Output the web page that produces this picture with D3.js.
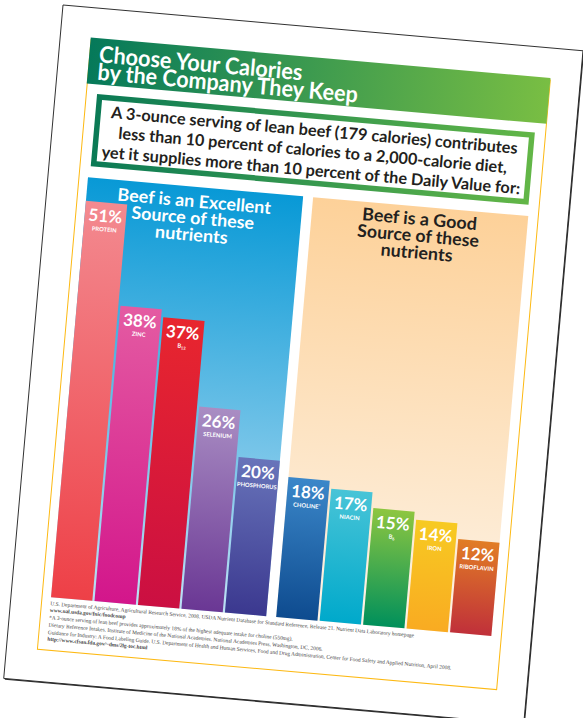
<!DOCTYPE html>
<html>
<head>
<meta charset="utf-8">
<script src="https://cdn.jsdelivr.net/npm/d3@7"></script>
<style>
  body { margin: 0; background: #fff; }
  svg { display: block; }
</style>
</head>
<body>
<svg id="chart" width="583" height="718"></svg>
<script>
const excellentNutrients = ['PROTEIN', 'ZINC', 'B12', 'SELENIUM', 'PHOSPHORUS'];
const excellentValues = [51, 38, 37, 26, 20];
const goodNutrients = ['CHOLINE*', 'NIACIN', 'B6', 'IRON', 'RIBOFLAVIN'];
const goodValues = [18, 17, 15, 14, 12];

const titleLines = ['Choose Your Calories', 'by the Company They Keep'];
const subtitleLines = [
  'A 3-ounce serving of lean beef (179 calories) contributes',
  'less than 10 percent of calories to a 2,000-calorie diet,',
  'yet it supplies more than 10 percent of the Daily Value for:'
];
const excellentHeader = ['Beef is an Excellent', 'Source of these', 'nutrients'];
const goodHeader = ['Beef is a Good', 'Source of these', 'nutrients'];
const footnoteLines = [
  'U.S. Department of Agriculture, Agricultural Research Service, 2008. USDA Nutrient Database for Standard Reference, Release 21. Nutrient Data Laboratory homepage',
  'www.nal.usda.gov/fnic/foodcomp',
  '*A 3-ounce serving of lean beef provides approximately 18% of the highest adequate intake for choline (550mg).',
  'Dietary Reference Intakes. Institute of Medicine of the National Academies. National Academies Press, Washington, DC, 2006.',
  'Guidance for Industry: A Food Labeling Guide. U.S. Department of Health and Human Services, Food and Drug Administration, Center for Food Safety and Applied Nutrition, April 2008.',
  'http://www.cfsan.fda.gov/~dms/2lg-toc.html'
];

// bar colours, top -> bottom
const excellentColors = [
  ['#f38a90', '#ee4047'], ['#e45ba2', '#d3168b'], ['#e8262e', '#cb0f42'],
  ['#a98dc3', '#6a3794'], ['#6874ba', '#3b388f']
];
const goodColors = [
  ['#3b87c9', '#0e4b8f'], ['#48c4d7', '#00a9cb'], ['#8dc640', '#00905b'],
  ['#f7ca22', '#f9ab22'], ['#e17d25', '#c0303a']
];

const svg = d3.select('#chart');
const defs = svg.append('defs');
const font = 'Lato, "Open Sans", sans-serif';

function gradient(id, c0, c1, horizontal) {
  const lg = defs.append('linearGradient').attr('id', id)
    .attr('x1', 0).attr('y1', 0)
    .attr('x2', horizontal ? 1 : 0).attr('y2', horizontal ? 0 : 1);
  lg.append('stop').attr('offset', 0).attr('stop-color', c0);
  lg.append('stop').attr('offset', 1).attr('stop-color', c1);
}
gradient('greenBand', '#05795a', '#79be43', true);
gradient('greenBox', '#0b7a55', '#62b647', true);
gradient('bluePanel', '#0899d6', '#bde0f4', false);
gradient('peachPanel', '#fdd199', '#fdf3e6', false);

const paperW = 522, paperH = 676;
const page = svg.append('g').attr('transform', 'translate(63,5) rotate(5.03)');

page.append('rect').attr('x', 1.2).attr('y', 1.2)
  .attr('width', paperW).attr('height', paperH).attr('fill', '#333');
page.append('rect').attr('width', paperW).attr('height', paperH)
  .attr('fill', '#fff').attr('stroke', '#222').attr('stroke-width', 0.9);

// yellow frame
page.append('rect').attr('x', 31).attr('y', 32).attr('width', 461).attr('height', 612)
  .attr('fill', 'none').attr('stroke', '#fdb913').attr('stroke-width', 1);

// lines of text stretched to the widths measured on the poster
function textBlock(lines, widths, opts) {
  page.append('g').selectAll('text').data(lines).join('text')
    .attr('x', opts.x).attr('y', (d, i) => opts.y + i * opts.step)
    .attr('text-anchor', opts.anchor || 'start')
    .attr('textLength', (d, i) => widths[i])
    .attr('lengthAdjust', 'spacingAndGlyphs')
    .attr('font-family', font).attr('font-weight', 700).attr('font-size', opts.size)
    .attr('fill', opts.color).text((d) => d);
}

// title band
page.append('rect').attr('x', 30.5).attr('y', 30).attr('width', 461.5).attr('height', 46)
  .attr('fill', 'url(#greenBand)');
textBlock(titleLines, [204, 261], { x: 40.5, y: 54, step: 17.5, size: 23, color: '#fff' });

// subtitle box
page.append('rect').attr('x', 44.5).attr('y', 88.5).attr('width', 434).attr('height', 67)
  .attr('fill', '#fff').attr('stroke', 'url(#greenBox)').attr('stroke-width', 5.5);
textBlock(subtitleLines, [408, 390, 420],
  { x: 261.5, y: 108.5, step: 20, size: 16.3, color: '#231f20', anchor: 'middle' });

// panels
const panelTop = 169.5, base = 591;
page.append('rect').attr('x', 40).attr('y', panelTop).attr('width', 216).attr('height', base - panelTop)
  .attr('fill', 'url(#bluePanel)');
page.append('rect').attr('x', 266).attr('y', panelTop).attr('width', 216).attr('height', base - panelTop)
  .attr('fill', 'url(#peachPanel)');

const y = d3.scaleLinear()
  .domain([0, d3.max([...excellentValues, ...goodValues])])
  .range([base, 193]);

textBlock(excellentHeader, [154, 123, 73],
  { x: 148, y: 190, step: 16.8, size: 17.5, color: '#fff', anchor: 'middle' });
textBlock(goodHeader, [115, 122, 72],
  { x: 374, y: 188, step: 16.8, size: 17.5, color: '#231f20', anchor: 'middle' });

function nutrientLabel(sel, name) {
  const m = name.match(/^B(\d+)$/);
  if (m) {
    sel.append('tspan').text('B');
    sel.append('tspan').attr('font-size', 4).attr('dy', 1.3).text(m[1]);
  } else if (name.endsWith('*')) {
    sel.append('tspan').text(name.slice(0, -1));
    sel.append('tspan').attr('font-size', 4.2).attr('dy', -1.7).text('*');
  } else {
    sel.text(name);
  }
}

function drawBars(key, names, values, colors, x0, x1) {
  const x = d3.scaleBand().domain(names).range([x0, x1]).paddingInner(0.05);
  const rows = names.map((n, i) => ({ name: n, value: values[i], c: colors[i], id: `${key}${i}` }));
  rows.forEach((d) => gradient(d.id, d.c[0], d.c[1], false));

  const g = page.append('g');
  g.selectAll('rect').data(rows).join('rect')
    .attr('x', (d) => x(d.name))
    .attr('y', (d) => y(d.value))
    .attr('width', x.bandwidth())
    .attr('height', (d) => base - y(d.value))
    .attr('fill', (d) => `url(#${d.id})`);

  g.selectAll('.pct').data(rows).join('text')
    .attr('class', 'pct')
    .attr('x', (d) => x(d.name) + x.bandwidth() / 2)
    .attr('y', (d) => y(d.value) + 19.5)
    .attr('text-anchor', 'middle')
    .attr('font-family', font).attr('font-weight', 700).attr('font-size', 17)
    .attr('fill', '#fff').text((d) => d.value + '%');

  g.selectAll('.name').data(rows).join('text')
    .attr('class', 'name')
    .attr('x', (d) => x(d.name) + x.bandwidth() / 2)
    .attr('y', (d) => y(d.value) + 29)
    .attr('text-anchor', 'middle')
    .attr('font-family', font).attr('font-weight', 700).attr('font-size', 5.8)
    .attr('fill', '#fff')
    .each(function (d) { nutrientLabel(d3.select(this), d.name); });
}

drawBars('ex', excellentNutrients, excellentValues, excellentColors, 40, 256);
drawBars('gd', goodNutrients, goodValues, goodColors, 266, 482);

// sources
page.append('g').selectAll('text').data(footnoteLines).join('text')
  .attr('x', 40)
  .attr('y', (d, i) => [599, 605.5, 613, 620.5, 628, 634.5][i])
  .attr('font-family', '"Liberation Serif", serif')
  .attr('font-size', 5.4)
  .attr('font-weight', (d) => /^(www|http)/.test(d) ? 700 : 400)
  .attr('fill', '#444')
  .text((d) => d);
</script>
</body>
</html>
